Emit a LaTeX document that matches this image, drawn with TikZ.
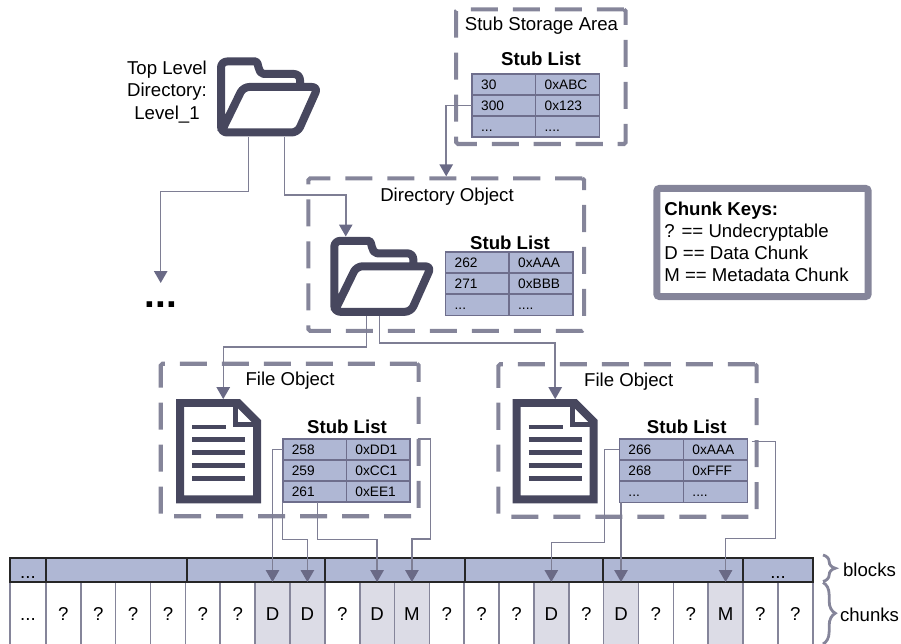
\documentclass[tikz,border=0pt]{standalone}
\usepackage{fontspec}
\setmainfont{Liberation Sans}
\usetikzlibrary{arrows.meta,decorations.pathreplacing}
\definecolor{darkicon}{HTML}{47475E}
\definecolor{edgegrey}{HTML}{85859A}
\definecolor{linegrey}{HTML}{7E7E94}
\definecolor{headgrey}{HTML}{6A6A86}
\definecolor{cellblue}{HTML}{AFB7D4}
\definecolor{cellline}{HTML}{6E6E8C}
\definecolor{chunkfill}{HTML}{DCDCE6}
\tikzset{
  label/.style={font=\fontsize{10.6}{12.5}\selectfont,inner sep=0pt},
  boldlabel/.style={label,font=\fontsize{10.6}{12.5}\selectfont\bfseries},
  dashbox/.style={draw=edgegrey,line width=2.3pt,dash pattern=on 15.4pt off 8.5pt,rounded corners=1pt,inner sep=0pt},
  stubcell/.style={draw=cellline,fill=cellblue,line width=0.9pt,font=\fontsize{7.8}{9}\selectfont,
    text width=26pt,align=left,inner xsep=5.2pt,inner ysep=0pt,minimum height=11.9pt,
    text height=5.4pt,text depth=0pt,outer sep=0pt},
  chunkcell/.style={draw=edgegrey,line width=0.9pt,fill=white,font=\fontsize{10.6}{12.5}\selectfont,
    minimum width=19.8pt,minimum height=36.4pt,inner sep=0pt,text height=7.6pt,text depth=0pt,outer sep=0pt},
  datacell/.style={chunkcell,fill=chunkfill},
  blockcell/.style={draw=black!85,line width=1.1pt,fill=cellblue,font=\fontsize{10.6}{12.5}\selectfont,
    minimum height=13.4pt,inner sep=0pt,text height=9.6pt,text depth=0pt,outer sep=0pt},
  iconbox/.style={inner sep=0pt,outer sep=0pt},
  foldericon/.pic={
    \draw[darkicon,line width=4.55pt,rounded corners=3.4pt,line join=round]
      (30.3,-10) -- (30.3,-23) -- (0,-23) .. controls (-12,-23) and (-11,-35.5) .. (-19.7,-35.5)
      -- (-48.7,-35.5) -- (-48.7,35.5) -- (27.9,35.5) -- (48.3,-10) -- (-26.5,-10) -- (-48.7,35.5);
  },
  docicon/.pic={
    \draw[darkicon,line width=4.55pt,miter limit=4]
      (-38.5,-48.2) -- (19.8,-48.2) -- (38.5,-29.5) -- (38.5,48.1) -- (-38.5,48.1) -- cycle;
    \draw[darkicon,line width=2.85pt] (17.3,-48) -- (17.3,-27) -- (38.5,-27);
    \draw[darkicon,line width=2.7pt]
      (-26.5,-24.2) -- (7.5,-24.2)
      (-26.5,-11.5) -- (26.5,-11.5)
      (-26.5,1.5) -- (26.5,1.5)
      (-26.5,14.1) -- (26.5,14.1)
      (-26.5,27.1) -- (26.5,27.1);
  },
  connector/.style={draw=linegrey,line width=0.85pt,
    -{Triangle[length=6.8pt,width=7.6pt,color=headgrey]}},
  bracemark/.style={draw=edgegrey,line width=1.6pt,decorate,decoration={brace,amplitude=7pt}}
}
\begin{document}
\begin{tikzpicture}[x=0.02cm,y=-0.02cm]
  \useasboundingbox (0,0) rectangle (901,644);
  \draw
    (28,614) node[chunkcell,minimum width=20.5pt] (c0){...}
    (63.4,614) node[chunkcell] (c1){?}
    (98.3,614) node[chunkcell] (c2){?}
    (133.1,614) node[chunkcell] (c3){?}
    (168,614) node[chunkcell] (c4){?}
    (202.8,614) node[chunkcell] (c5){?}
    (237.7,614) node[chunkcell] (c6){?}
    (272.5,614) node[datacell] (c7){D}
    (307.4,614) node[datacell] (c8){D}
    (342.2,614) node[chunkcell] (c9){?}
    (377.1,614) node[datacell] (c10){D}
    (411.9,614) node[datacell] (c11){M}
    (446.8,614) node[chunkcell] (c12){?}
    (481.6,614) node[chunkcell] (c13){?}
    (516.5,614) node[chunkcell] (c14){?}
    (551.3,614) node[datacell] (c15){D}
    (586.2,614) node[chunkcell] (c16){?}
    (621,614) node[datacell] (c17){D}
    (655.9,614) node[chunkcell] (c18){?}
    (690.7,614) node[chunkcell] (c19){?}
    (725.6,614) node[datacell] (c20){M}
    (760.4,614) node[chunkcell] (c21){?}
    (795.3,614) node[chunkcell] (c22){?};
  \draw
    (28,570) node[blockcell,minimum width=20.5pt] (b0){...}
    (116.3,570) node[blockcell,minimum width=80pt] (b1){}
    (255.8,570) node[blockcell,minimum width=78.7pt] (b2){}
    (395,570) node[blockcell,minimum width=79.7pt] (b3){}
    (534,570) node[blockcell,minimum width=78.5pt] (b4){}
    (673,570) node[blockcell,minimum width=79.7pt] (b5){}
    (778,570) node[blockcell,minimum width=39.8pt] (b6){...};
  \draw
    (540.9,76.7) node[dashbox,minimum width=96.5pt,minimum height=76.6pt] (storagebox){}
    (446.2,254.6) node[dashbox,minimum width=156.9pt,minimum height=86.8pt] (dirbox){}
    (289.7,440) node[dashbox,minimum width=146.8pt,minimum height=86.8pt] (filebox1){}
    (627.5,440.5) node[dashbox,minimum width=147pt,minimum height=86.8pt] (filebox2){}
    (762.5,242.5) node[draw=edgegrey,line width=4pt,rounded corners=1.5pt,fill=white,minimum width=120.3pt,minimum height=61.5pt] (keybox){};
  \draw
    (541.5,26) node[label] (storagelabel){Stub Storage Area}
    (447,196.5) node[label] (dirlabel){Directory Object}
    (290,381) node[label] (filelabel1){File Object}
    (628.7,381.5) node[label] (filelabel2){File Object}
    (167,92) node[label,align=center,font=\fontsize{10.6}{12.8}\selectfont] (toplabel){Top Level\\Directory:\\Level\_1}
    (541,58.5) node[boldlabel] (stubtitle0){Stub List}
    (510,243) node[boldlabel] (stubtitle1){Stub List}
    (347,426.7) node[boldlabel] (stubtitle2){Stub List}
    (686.7,426.7) node[boldlabel] (stubtitle3){Stub List}
    (664,241.5) node[label,anchor=west,align=left] (keytext){\textbf{Chunk Keys:}\\? == Undecryptable\\D == Data Chunk\\M == Metadata Chunk}
    (161,305) node[inner sep=0pt,font=\fontsize{22}{22}\selectfont\bfseries] (moredots){...}
    (869.5,570) node[label] (blocklabel){blocks}
    (869.5,615) node[label] (chunklabel){chunks};
  \draw
    (504,84.5) node[stubcell] (sa00){30}
    (567.5,84.5) node[stubcell] (sa01){0xABC}
    (504,105.5) node[stubcell] (sa10){300}
    (567.5,105.5) node[stubcell] (sa11){0x123}
    (504,126.5) node[stubcell] (sa20){...}
    (567.5,126.5) node[stubcell] (sa21){....}
    (477.5,262.5) node[stubcell] (da00){262}
    (541,262.5) node[stubcell] (da01){0xAAA}
    (477.5,283.5) node[stubcell] (da10){271}
    (541,283.5) node[stubcell] (da11){0xBBB}
    (477.5,305) node[stubcell] (da20){...}
    (541,305) node[stubcell] (da21){....}
    (314.7,449.3) node[stubcell] (fa00){258}
    (378.3,449.3) node[stubcell] (fa01){0xDD1}
    (314.7,470.5) node[stubcell] (fa10){259}
    (378.3,470.5) node[stubcell] (fa11){0xCC1}
    (314.7,491.5) node[stubcell] (fa20){261}
    (378.3,491.5) node[stubcell] (fa21){0xEE1}
    (651.3,449.5) node[stubcell] (fb00){266}
    (715.3,449.5) node[stubcell] (fb01){0xAAA}
    (651.3,470.5) node[stubcell] (fb10){268}
    (715.3,470.5) node[stubcell] (fb11){0xFFF}
    (651.3,492) node[stubcell] (fb20){...}
    (715.3,492) node[stubcell] (fb21){....};
  \draw
    (269.7,97) node[iconbox,minimum width=60.3pt,minimum height=45.3pt] (topfolder){}
    (383,276.3) node[iconbox,minimum width=60.3pt,minimum height=45.3pt] (dirfolder){}
    (218.5,451.2) node[iconbox,minimum width=48.4pt,minimum height=59.3pt] (filedoc1){}
    (555.2,451.2) node[iconbox,minimum width=48.4pt,minimum height=59.3pt] (filedoc2){};
  \pic at (topfolder) {foldericon};
  \pic at (dirfolder) {foldericon};
  \pic at (filedoc1) {docicon};
  \pic at (filedoc2) {docicon};
  \coordinate (moretip) at (160.7,283);
  \begin{scope}[connector]
    \draw ([xshift=-12.2pt]topfolder.south) -- ++(0,54.7) -| (moretip);
    \draw ([xshift=8.5pt]topfolder.south) -- ++(0,58.3) -| ([xshift=-21.2pt]dirfolder.north);
    \draw (sa10.west) -| (dirbox.north);
    \draw ([xshift=-9.3pt]dirfolder.south) -- ++(0,30.7) -| ([xshift=2.7pt]filedoc1.north);
    \draw ([xshift=-2.1pt]dirfolder.south) -- ++(0,27) -| (filedoc2.north);
    \draw (fa00.west) -| (c7.north);
    \draw (fa20.south west) -- ++(0,37.3) -| (c8.north);
    \draw ([xshift=1.7pt]fa20.south) -- ++(0,37.3) -| (c10.north);
    \draw ([xshift=4.6pt]fa01.north east) -- ++(12,0) -- ++(0,100) -| (c11.north);
    \draw (fb00.west) -- ++(-15,0) -- ++(0,93.2) -| (c15.north);
    \draw (c17.north |- fb20.south) -- (c17.north);
    \draw ([xshift=2.5pt,yshift=-1.5pt]fb01.north east) -- ++(24,0) -- ++(0,97) -| (c20.north);
  \end{scope}
  \coordinate (bracea) at (823,555);
  \coordinate (braceb) at (823,581.5);
  \coordinate (bracec) at (823,582.5);
  \coordinate (braced) at (823,644);
  \draw[bracemark] (bracea) -- (braceb);
  \draw[bracemark] (bracec) -- (braced);
\end{tikzpicture}
\end{document}
